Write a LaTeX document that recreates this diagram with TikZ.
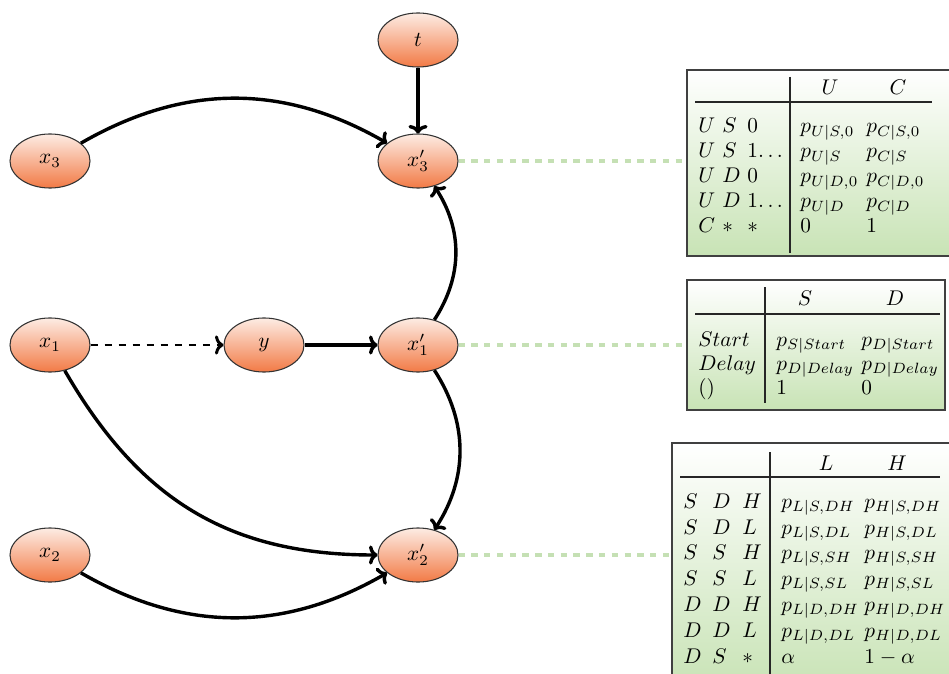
\documentclass[tikz,border=0pt]{standalone}
\usetikzlibrary{shapes.geometric,arrows.meta}
\definecolor{ntop}{HTML}{FDECE4}
\definecolor{nbot}{HTML}{F27A45}
\definecolor{tbot}{HTML}{C8E3B5}
\definecolor{dgreen}{HTML}{C5E0B4}
\begin{document}
\begin{tikzpicture}[x=0.47pt,y=0.47pt,
 var/.style={ellipse, draw=black!80, line width=0.5pt, top color=ntop, bottom color=nbot,
   minimum width=37.6pt, minimum height=25.4pt, inner sep=0pt},
 arr/.style={line width=1.6pt, -{To[length=4pt,width=9pt]}},
 link/.style={dgreen, line width=2.3pt, dash pattern=on 3pt off 3pt},
 tbox/.style={rectangle, draw=black!75, line width=0.6pt, top color=white, bottom color=tbot, inner sep=0pt},
 cell/.style={anchor=base west, inner sep=0pt},
 hcell/.style={anchor=base, inner sep=0pt},
 rul/.style={line width=0.5pt, black!85}]
\useasboundingbox (0,0) rectangle (949,673);

% graph nodes
\node[var] (t)   at (418,633) {$t$};
\node[var] (x3)  at (50,512)  {$x_3$};
\node[var] (x3p) at (418,512) {$x'_3$};
\node[var] (x1)  at (50,328)  {$x_1$};
\node[var] (y)   at (264,328) {$y$};
\node[var] (x1p) at (418,328) {$x'_1$};
\node[var] (x2)  at (50,118)  {$x_2$};
\node[var] (x2p) at (418,118) {$x'_2$};

% table boxes
\node[tbox, minimum width=273*0.47pt, minimum height=186*0.47pt] (T1) at (823.5,510) {};
\node[tbox, minimum width=258*0.47pt, minimum height=130*0.47pt] (T2) at (816,328) {};
\node[tbox, minimum width=288*0.47pt, minimum height=247*0.47pt] (T3) at (816,106.5) {};

% green links
\draw[link] (x3p.east) -- (x3p.east -| T1.west);
\draw[link] (x1p.east) -- (x1p.east -| T2.west);
\draw[link] (x2p.east) -- (x2p.east -| T3.west);

% arrows
\draw[arr] (t) -- (x3p);
\draw[arr] (x3) to[bend left=30] (x3p);
\draw[arr, line width=1.4pt, dash pattern=on 3.4pt off 3.2pt] (x1) -- (y);
\draw[arr] (y) -- (x1p);
\draw[arr] (x1p) to[bend right=33] (x3p);
\draw[arr] (x1p) to[bend left=33] (x2p);
\draw[arr] (x1) to[out=-60,in=180,looseness=1.05] (x2p);
\draw[arr] (x2) to[bend right=30] (x2p);

% table 1
\coordinate (h1a) at (695,571); \coordinate (h1b) at (932,571);
\coordinate (v1a) at (790,596); \coordinate (v1b) at (790,420);
\draw[rul] (h1a) -- (h1b);
\draw[rul] (v1a) -- (v1b);
\node[hcell] (t1hU) at (830,578) {$U$};
\node[hcell] (t1hC) at (898,578) {$C$};
\foreach \yy/\a/\b/\c/\d/\e [count=\i] in
 {540/U/S/0/{p_{U|S,0}}/{p_{C|S,0}},
  515/U/S/{1{.}\,{.}\,{.}}/{p_{U|S}}/{p_{C|S}},
  490/U/D/0/{p_{U|D,0}}/{p_{C|D,0}},
  465/U/D/{1{.}\,{.}\,{.}}/{p_{U|D}}/{p_{C|D}},
  440/C/*/*/0/1}{
  \node[cell] (t1a\i) at (698,\yy) {$\a$};
  \node[cell] (t1b\i) at (722,\yy) {$\b$};
  \node[cell] (t1c\i) at (747,\yy) {$\c$};
  \node[cell] (t1d\i) at (800,\yy) {$\d$};
  \node[cell] (t1e\i) at (866,\yy) {$\e$};
}

% table 2
\coordinate (h2a) at (695,359); \coordinate (h2b) at (940,359);
\coordinate (v2a) at (765,386); \coordinate (v2b) at (765,270);
\draw[rul] (h2a) -- (h2b);
\draw[rul] (v2a) -- (v2b);
\node[hcell] (t2hS) at (805,368) {$S$};
\node[hcell] (t2hD) at (895,368) {$D$};
\foreach \yy/\a/\d/\e [count=\i] in
 {327/{Start}/{p_{S|Start}}/{p_{D|Start}},
  303/{Delay}/{p_{D|Delay}}/{p_{D|Delay}},
  279/{()}/1/0}{
  \node[cell] (t2a\i) at (698,\yy) {$\a$};
  \node[cell] (t2d\i) at (776,\yy) {$\d$};
  \node[cell] (t2e\i) at (861,\yy) {$\e$};
}

% table 3
\coordinate (h3a) at (680,196); \coordinate (h3b) at (940,196);
\coordinate (v3a) at (770,221); \coordinate (v3b) at (770,-10);
\draw[rul] (h3a) -- (h3b);
\draw[rul] (v3a) -- (v3b);
\node[hcell] (t3hL) at (826,203) {$L$};
\node[hcell] (t3hH) at (897,203) {$H$};
\foreach \yy/\a/\b/\c/\d/\e [count=\i] in
 {165/S/D/H/{p_{L|S,DH}}/{p_{H|S,DH}},
  139/S/D/L/{p_{L|S,DL}}/{p_{H|S,DL}},
  114/S/S/H/{p_{L|S,SH}}/{p_{H|S,SH}},
  88/S/S/L/{p_{L|S,SL}}/{p_{H|S,SL}},
  62/D/D/H/{p_{L|D,DH}}/{p_{H|D,DH}},
  36/D/D/L/{p_{L|D,DL}}/{p_{H|D,DL}},
  10/D/S/*/{\alpha}/{1-\alpha}}{
  \node[cell] (t3a\i) at (683,\yy) {$\a$};
  \node[cell] (t3b\i) at (712,\yy) {$\b$};
  \node[cell] (t3c\i) at (742,\yy) {$\c$};
  \node[cell] (t3d\i) at (781,\yy) {$\d$};
  \node[cell] (t3e\i) at (864,\yy) {$\e$};
}
\end{tikzpicture}
\end{document}
